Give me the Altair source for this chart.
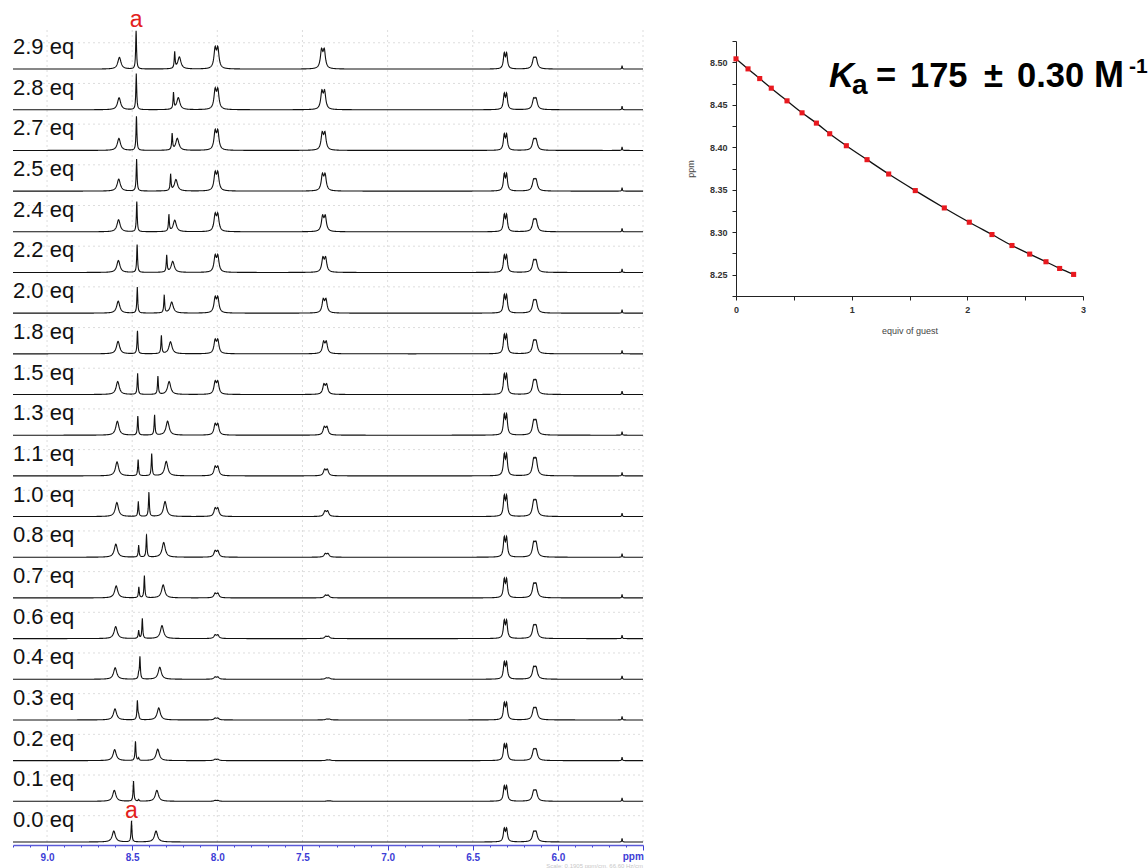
import altair as alt
import numpy as np
import pandas as pd

# ---------------- data ----------------
labels = ["0.0 eq", "0.1 eq", "0.2 eq", "0.3 eq", "0.4 eq", "0.6 eq", "0.7 eq", "0.8 eq",
          "1.0 eq", "1.1 eq", "1.3 eq", "1.5 eq", "1.8 eq", "2.0 eq", "2.2 eq", "2.4 eq",
          "2.5 eq", "2.7 eq", "2.8 eq", "2.9 eq"]

# isotherm (equiv of guest vs. shift of proton a)
iso_equiv = [0.0, 0.104, 0.205, 0.305, 0.441, 0.571, 0.695, 0.810, 0.954, 1.133,
             1.320, 1.550, 1.801, 2.017, 2.213, 2.386, 2.539, 2.680, 2.798, 2.919]
shift_a = [8.504, 8.4922, 8.4808, 8.4695, 8.4546, 8.4405, 8.4284, 8.4159, 8.4018, 8.3854,
           8.3685, 8.3490, 8.3286, 8.3118, 8.2973, 8.2844, 8.2743, 8.2653, 8.2574, 8.2504]

# peak heights (px) and positions (ppm) for each spectrum, bottom (0.0 eq) to top (2.9 eq)
a_h = [21, 20, 19, 19, 22, 20, 22, 22, 24, 22, 20, 18, 18, 17.7, 16.7, 16.5, 16, 16, 16, 16]
p1_ppm = [8.608, 8.605, 8.603, 8.601, 8.600, 8.597, 8.594, 8.596, 8.590, 8.589,
          8.587, 8.585, 8.583, 8.582, 8.581, 8.580, 8.579, 8.578, 8.577, 8.575]
p1_h = [11, 11, 11, 11, 11.5, 12, 12, 13, 14, 14, 14, 13, 12.5, 12, 12, 12, 12, 12, 12, 11.7]
g_ppm = [8.462, 8.462, 8.462, 8.462, 8.462, 8.462, 8.461, 8.462, 8.464, 8.465,
         8.467, 8.468, 8.469, 8.470, 8.471, 8.473, 8.474, 8.475, 8.476, 8.477]
g_h = [0, 1.5, 2.5, 4, 5, 8, 10.7, 12, 15, 16, 19, 21, 23, 26, 27.7, 30, 32, 34, 36, 38]
p3_ppm = [8.360, 8.355, 8.350, 8.344, 8.338, 8.325, 8.318, 8.315, 8.307, 8.300,
          8.292, 8.283, 8.275, 8.268, 8.262, 8.250, 8.243, 8.235, 8.229, 8.223]
p3_h = [11, 11, 11.5, 12, 12, 13, 13, 14.7, 15, 14.5, 14, 13, 12, 11, 11, 11.5, 11.5, 12, 12, 12]
p4_ppm = [8.005] * 20
p4_h = [0, 1, 1.5, 2, 2.5, 4, 5, 7, 9, 10, 12, 14, 15, 17, 18, 19, 20, 21, 22, 22.7]
p5_ppm = [7.345, 7.345, 7.348, 7.350, 7.352, 7.355, 7.357, 7.358, 7.360, 7.362,
          7.364, 7.366, 7.368, 7.370, 7.372, 7.374, 7.375, 7.376, 7.378, 7.380]
p5_h = [0, 0.5, 0.8, 1, 1.5, 2.5, 3, 4, 6, 7, 9, 11, 13, 15, 16, 17, 18, 19, 20, 21]
p6_h = [14.3, 16, 17, 18, 18, 19, 20, 21, 22, 22.7, 21.7, 21, 20, 19, 18, 18, 18, 17, 17, 16.7]
p7_h = [11, 11.5, 12, 12.5, 13, 14, 15, 16, 17, 18.3, 15.7, 15, 14, 13.5, 13, 13, 12.5, 12, 12, 12]
p8_h = [3.5] * 20

iso_y_ticks = [8.225, 8.25, 8.275, 8.30, 8.325, 8.35, 8.375, 8.40, 8.425, 8.45, 8.475, 8.50, 8.525]
iso_x_ticks = [0, 0.5, 1, 1.5, 2, 2.5, 3]
ppm_ticks = [round(9.2 - 0.1 * k, 1) for k in range(38)]
grid_ppm = [9.0, 8.5, 8.0, 7.5, 7.0, 6.5, 6.0, 5.5]

# ---------------- geometry of the spectra stack ----------------
W_L, H_L = 630, 840
STEP = 40.68


def base(i):
    return 3 + STEP * i


def lor(x, x0, h, w):
    return h / (1.0 + ((x - x0) / w) ** 2)


def doublet(x, x0, h, d, w):
    amp = h / (1.0 + 1.0 / (1.0 + (2 * d / w) ** 2))
    return lor(x, x0 - d, amp, w) + lor(x, x0 + d, amp, w)


rows = []
for i, lab in enumerate(labels):
    centers = [p1_ppm[i], shift_a[i], g_ppm[i], p3_ppm[i], 5.623]
    x = np.unique(np.concatenate([np.arange(5.5, 9.2001, 0.002), np.array(centers)]))
    y = (lor(x, p1_ppm[i], p1_h[i], 0.011)
         + lor(x, shift_a[i], a_h[i], 0.003)
         + lor(x, g_ppm[i], g_h[i], 0.003)
         + lor(x, p3_ppm[i], p3_h[i], 0.011)
         + doublet(x, p4_ppm[i], p4_h[i], 0.008, 0.008)
         + doublet(x, p5_ppm[i], p5_h[i], 0.008, 0.008)
         + doublet(x, 6.308, p6_h[i], 0.007, 0.006)
         + doublet(x, 6.135, p7_h[i], 0.007, 0.009)
         + lor(x, 5.623, p8_h[i], 0.002))
    rows.append(pd.DataFrame({"trace": lab, "ppm": x, "y": base(i) + y}))
spec = pd.concat(rows, ignore_index=True)

lab_df = pd.DataFrame({"label": labels, "ppm": [9.2] * 20,
                       "y": [base(i) + 15 for i in range(20)],
                       "grid": [base(i) + 26.3 for i in range(20)]})
a_df = pd.DataFrame({"t": ["a", "a"], "ppm": [shift_a[0], g_ppm[19]],
                     "y": [base(0) + a_h[0] + 3, base(19) + g_h[19] + 4]})
vgrid = pd.DataFrame({"ppm": grid_ppm})

FONT = "Liberation Sans"
BLUE = "#3d3dd6"
major = "abs(datum.value*2 - round(datum.value*2)) < 0.001"

xs = alt.Scale(domain=[5.5, 9.2], reverse=True, nice=False, zero=False)
ys = alt.Scale(domain=[0, H_L], nice=False, zero=False)
x_enc = alt.X("ppm:Q", scale=xs, title=None,
              axis=alt.Axis(values=ppm_ticks, grid=False, domainColor="#5a5ad8", domainWidth=1.5,
                            tickColor=BLUE, tickWidth=1,
                            tickSize={"condition": {"test": major, "value": 5}, "value": 2},
                            labelExpr=f"{major} && datum.value > 5.75 && datum.value < 9.15 ? format(datum.value, '.1f') : ''",
                            labelColor=BLUE, labelFont=FONT, labelFontSize=10, labelFontWeight="bold",
                            labelPadding=2, labelFlush=False, labelOverlap=False))

hgrid_l = alt.Chart(lab_df).mark_rule(color="#d4d4d4", strokeDash=[2, 3], strokeWidth=0.8).encode(
    y=alt.Y("grid:Q", scale=ys, axis=None), x=alt.value(0), x2=alt.value(W_L))
vgrid_l = alt.Chart(vgrid).mark_rule(color="#d4d4d4", strokeDash=[2, 3], strokeWidth=0.8).encode(
    x=x_enc, y=alt.value(25), y2=alt.value(H_L))
lines = alt.Chart(spec).mark_line(color="#111111", strokeWidth=1.1).encode(
    x=x_enc, y=alt.Y("y:Q", scale=ys, axis=None), detail="trace:N")
eq_text = alt.Chart(lab_df).mark_text(align="left", baseline="alphabetic", font=FONT, fontSize=22,
                                      color="#111111").encode(
    x=x_enc, y=alt.Y("y:Q", scale=ys, axis=None), text="label:N")
a_text = alt.Chart(a_df).mark_text(align="center", baseline="alphabetic", font=FONT, fontSize=23,
                                   color="#e3211c").encode(
    x=x_enc, y=alt.Y("y:Q", scale=ys, axis=None), text="t:N")
ppm_text = alt.Chart(pd.DataFrame({"t": ["ppm"], "ppm": [5.557]})).mark_text(
    align="center", baseline="middle", font=FONT, fontSize=10, fontWeight="bold", color=BLUE).encode(
    x=x_enc, y=alt.value(H_L + 12), text="t:N")
scale_text = alt.Chart(pd.DataFrame({"t": ["Scale: 0.1905 ppm/cm, 66.60 Hz/cm"], "ppm": [5.5]})).mark_text(
    align="right", baseline="middle", font=FONT, fontSize=6, color="#c8c8c8").encode(
    x=x_enc, y=alt.value(H_L + 21), text="t:N")

left = alt.layer(hgrid_l, vgrid_l, lines, eq_text, a_text, ppm_text, scale_text).properties(
    width=W_L, height=H_L)

# ---------------- isotherm ----------------
W_R, H_R = 347, 291
iso = pd.DataFrame({"equiv": iso_equiv, "shift": shift_a})
xr = alt.X("equiv:Q", scale=alt.Scale(domain=[0, 3], nice=False),
           axis=alt.Axis(values=iso_x_ticks, title="equiv of guest", grid=False,
                         labelExpr="datum.value % 1 == 0 ? format(datum.value, 'd') : ''",
                         domainColor="#222", tickColor="#222", tickSize=4,
                         labelFont=FONT, labelFontSize=9, labelFontWeight="bold", labelColor="#333",
                         labelPadding=5, titleFont=FONT, titleFontSize=9, titleFontWeight="normal",
                         titleColor="#444", titlePadding=12, labelFlush=False))
yr = alt.Y("shift:Q", scale=alt.Scale(domain=[8.225, 8.525], range=[H_R, 36], nice=False, zero=False),
           axis=alt.Axis(values=iso_y_ticks, title="ppm", grid=False,
                         labelExpr="abs(datum.value*20 - round(datum.value*20)) < 0.001 && datum.value > 8.24 && datum.value < 8.51 ? format(datum.value, '.2f') : ''",
                         domainColor="#222", tickColor="#222", tickSize=4,
                         labelFont=FONT, labelFontSize=9, labelFontWeight="bold", labelColor="#333",
                         labelPadding=5, titleFont=FONT, titleFontSize=9, titleFontWeight="normal",
                         titleColor="#444", titlePadding=14))
fit = alt.Chart(iso).mark_line(color="#111", strokeWidth=1.3, interpolate="monotone").encode(x=xr, y=yr)
pts = alt.Chart(iso).mark_square(color="#e8191f", size=26, opacity=1).encode(x=xr, y=yr)


def ann(txt, px, py, size, italic=False):
    kw = dict(align="left", baseline="alphabetic", font=FONT, fontSize=size, fontWeight="bold",
              color="#000")
    if italic:
        kw["fontStyle"] = "italic"
    return alt.Chart(pd.DataFrame({"t": [txt]})).mark_text(**kw).encode(
        x=alt.value(px), y=alt.value(py), text="t:N")


# pieces of the binding-constant annotation (pixel offsets inside the isotherm panel)
ka = [ann("K", 93, 82.3, 34.5, True), ann("a", 116, 89, 28),
      ann("=", 140, 82.3, 34.5), ann("175", 174, 82.3, 34.5), ann("\u00b1", 248, 82.3, 34.5),
      ann("0.30", 281, 82.3, 34.5), ann("M", 358, 82.3, 36), ann("-1", 393, 68, 21)]

right = alt.layer(fit, pts, *ka).properties(width=W_R, height=H_R)

chart = alt.hconcat(left, right, spacing=40).properties(
    padding={"left": 10, "top": 5, "right": 0, "bottom": 0}, background="white"
).configure_view(stroke=None)

chart.save("out.html", embed_options={"renderer": "svg", "actions": False})
